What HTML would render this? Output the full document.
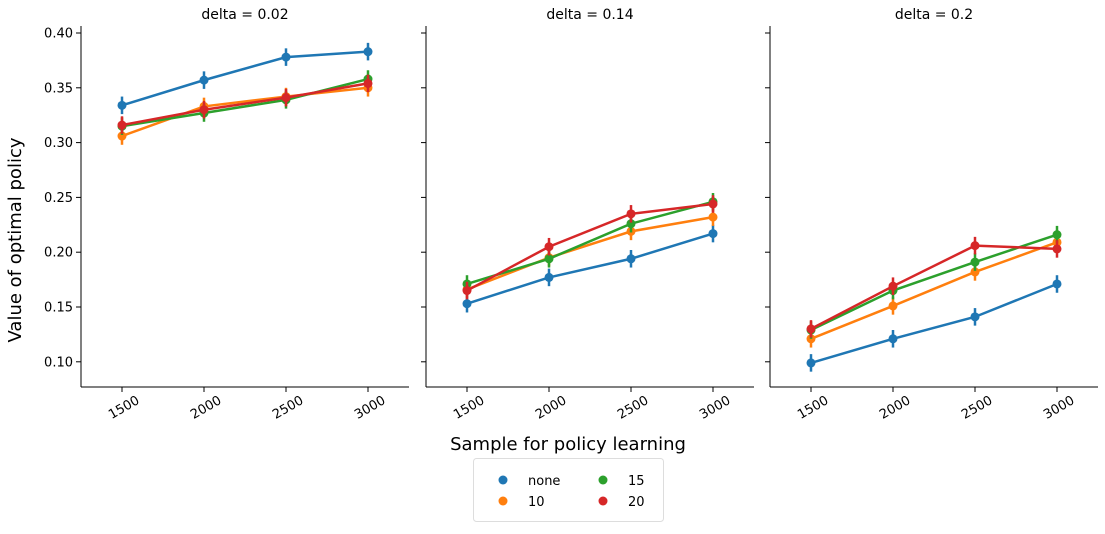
<!DOCTYPE html>
<html><head><meta charset="utf-8"><style>
body{margin:0;background:#fff;font-family:"Liberation Sans","DejaVu Sans",sans-serif}
svg text{font-family:"DejaVu Sans","Liberation Sans",sans-serif}
</style></head><body>
<svg id="c" width="1105" height="529"></svg>
<script>
const categories=[1500,2000,2500,3000];
const deltas=["0.02","0.14","0.2"];
const seriesNames=["none","10","15","20"];
const colors=["#1f77b4","#ff7f0e","#2ca02c","#d62728"];
const p1None=[0.334,0.357,0.378,0.383],p1S10=[0.306,0.333,0.342,0.350],p1S15=[0.315,0.327,0.339,0.358],p1S20=[0.316,0.330,0.341,0.354];
const p2None=[0.153,0.177,0.194,0.217],p2S10=[0.166,0.195,0.219,0.232],p2S15=[0.171,0.194,0.226,0.246],p2S20=[0.165,0.205,0.235,0.244];
const p3None=[0.099,0.121,0.141,0.171],p3S10=[0.121,0.151,0.182,0.209],p3S15=[0.129,0.165,0.191,0.216],p3S20=[0.130,0.169,0.206,0.203];
const errs=[0.008,0.008,0.008,0.008];
const yTicks=[0.10,0.15,0.20,0.25,0.30,0.35,0.40];
const panels=[[p1None,p1S10,p1S15,p1S20],[p2None,p2S10,p2S15,p2S20],[p3None,p3S10,p3S15,p3S20]];
const svg=document.getElementById('c');const NS='http://www.w3.org/2000/svg';
function mk(t,a,p){const e=document.createElementNS(NS,t);for(const k in a)e.setAttribute(k,a[k]);(p||svg).appendChild(e);return e;}
const lefts=[81,426,770],W=328,topY=26,botY=387;
const yS=v=>33+(0.40-v)/0.05*54.8;
panels.forEach((ser,pi)=>{
 const L=lefts[pi];const xS=i=>L+41+i*82;
 const g=mk('g',{});
 
 
 mk('line',{x1:L,y1:topY,x2:L,y2:botY,stroke:'#000','stroke-width':1},g);
 mk('line',{x1:L,y1:botY,x2:L+W,y2:botY,stroke:'#000','stroke-width':1},g);
 const t=mk('text',{x:L+W/2,y:19,'text-anchor':'middle','font-size':14},g);t.textContent='delta = '+deltas[pi];
 
 
 yTicks.forEach(v=>{mk('line',{x1:L-5,x2:L,y1:yS(v),y2:yS(v),stroke:'#000'},g);
  if(pi==0){const tt=mk('text',{x:L-8,y:yS(v)+4.5,'text-anchor':'end','font-size':13},g);tt.textContent=v.toFixed(2);
  
  }});
 categories.forEach((c,i)=>{mk('line',{x1:xS(i),x2:xS(i),y1:botY,y2:botY+5,stroke:'#000'},g);
  const tt=mk('text',{x:xS(i)+4,y:botY+24,'text-anchor':'middle','font-size':13,transform:`rotate(-30 ${xS(i)+4} ${botY+24})`},g);tt.textContent=c;
  
  });
 ser.forEach((vals,si)=>{
  const pl=mk('polyline',{points:vals.map((v,i)=>xS(i)+','+yS(v)).join(' '),fill:'none',stroke:colors[si],'stroke-width':2.5},g);
  
  
  vals.forEach((v,i)=>{mk('line',{x1:xS(i),x2:xS(i),y1:yS(v+errs[i]),y2:yS(v-errs[i]),stroke:colors[si],'stroke-width':2.5},g);
   const c=mk('circle',{cx:xS(i),cy:yS(v),r:4.5,fill:colors[si]},g);
   
   });
 });
});
let tx=mk('text',{x:21,y:240,'text-anchor':'middle','font-size':18,transform:'rotate(-90 21 240)'});tx.textContent='Value of optimal policy';


tx=mk('text',{x:568,y:450,'text-anchor':'middle','font-size':18});tx.textContent='Sample for policy learning';


const lg=mk('g',{});


mk('rect',{x:473.5,y:458.5,width:190,height:63,fill:'#fff',stroke:'#ddd',rx:3},lg);
seriesNames.forEach((n,i)=>{const cx=503+(i>=2?100:0),cy=480+(i%2)*21;
 mk('circle',{cx:cx,cy:cy,r:4.5,fill:colors[i]},lg);
 const e=mk('text',{x:cx+25,y:cy+5,'font-size':13},lg);e.textContent=n;
 
 });
</script></body></html>
